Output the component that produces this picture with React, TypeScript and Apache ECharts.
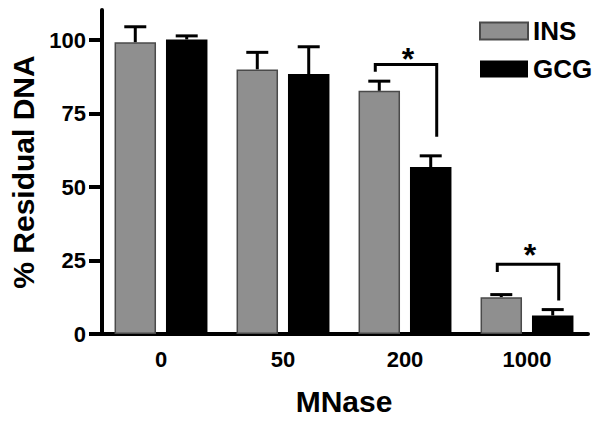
import React, { useEffect, useRef } from "react";
import * as echarts from "echarts";

const categories = ["0", "50", "200", "1000"];
const insValues = [99.2, 90.0, 82.7, 12.5];
const insErrTop = [104.5, 95.8, 86.0, 13.4];
const gcgValues = [100.2, 88.4, 56.8, 6.3];
const gcgErrTop = [101.4, 97.7, 60.6, 8.3];
// significance brackets: [categoryIndex, leftBottom, rightBottom, top, starY]
const bracketCats = [2, 3];
const bracketLeftBottom = [89.2, 21.1];
const bracketRightBottom = [67.1, 11.4];
const bracketTop = [91.7, 23.7];
const starY = [93.5, 26.8];
const yTicks = { min: 0, max: 100, interval: 25 };

const FONT = "'Liberation Sans', Arial, sans-serif";
const BAR_W = 0.34;
const BAR_GAP = 0.24;

export default function App() {
  const ref = useRef<HTMLDivElement>(null);
  useEffect(() => {
    document.body.style.margin = "0";
    const chart = echarts.init(ref.current!, undefined, { renderer: "svg" });

    const barOffset = (api: any) => {
      const band = api.size([1, 0])[0];
      const bw = band * BAR_W;
      return (bw + bw * BAR_GAP) / 2;
    };

    const makeErr = (sign: number) => (params: any, api: any) => {
      const cat = api.value(0);
      const c = api.coord([cat, api.value(1)]);
      const e = api.coord([cat, api.value(2)]);
      const x = c[0] + sign * barOffset(api);
      return {
        type: "group",
        children: [
          { type: "line", shape: { x1: x, y1: c[1], x2: x, y2: e[1] }, style: { stroke: "#000", lineWidth: 3 } },
          { type: "line", shape: { x1: x - 11, y1: e[1], x2: x + 11, y2: e[1] }, style: { stroke: "#000", lineWidth: 3 } },
        ],
      };
    };

    const bracketRender = (params: any, api: any) => {
      const cat = api.value(0);
      const off = barOffset(api);
      const lb = api.coord([cat, api.value(1)]);
      const rb = api.coord([cat, api.value(2)]);
      const tp = api.coord([cat, api.value(3)]);
      const st = api.coord([cat, api.value(4)]);
      const lx = lb[0] - off - 4;
      const rx = lb[0] + off + 6;
      return {
        type: "group",
        children: [
          {
            type: "polyline",
            shape: { points: [[lx, lb[1]], [lx, tp[1]], [rx, tp[1]], [rx, rb[1]]] },
            style: { stroke: "#000", lineWidth: 3, fill: "none" },
          },
          {
            type: "text",
            x: (lx + rx) / 2 + 2,
            y: st[1],
            style: { text: "*", fontSize: 32, fontWeight: "bold", fontFamily: FONT, fill: "#000", align: "center", verticalAlign: "middle" },
          },
        ],
      };
    };

    const labelStyle = { fontSize: 22, fontWeight: "bold", fontFamily: FONT, color: "#000" };

    chart.setOption({
      animation: false,
      backgroundColor: "#fff",
      grid: [
        { left: 100, right: 12, top: 40, bottom: 87 },
        { left: 100, right: 12, top: 10, bottom: 87 },
      ],
      legend: {
        data: ["INS", "GCG"],
        orient: "vertical",
        left: 479,
        top: 18,
        padding: 0,
        itemWidth: 48,
        itemHeight: 17,
        itemGap: 12,
        icon: "rect",
        textStyle: { fontSize: 26, lineHeight: 26, fontWeight: "bold", fontFamily: FONT, color: "#000" },
      },
      xAxis: [
        {
          type: "category",
          gridIndex: 0,
          data: categories,
          name: "MNase",
          nameLocation: "middle",
          nameGap: 52,
          nameTextStyle: { fontSize: 30, fontWeight: "bold", fontFamily: FONT, color: "#000" },
          axisLine: { lineStyle: { color: "#000", width: 4 } },
          axisTick: { alignWithLabel: true, length: 11, lineStyle: { color: "#000", width: 4 } },
          axisLabel: { ...labelStyle, margin: 14 },
        },
        { type: "category", gridIndex: 1, data: categories, show: false },
      ],
      yAxis: [
        {
          type: "value",
          gridIndex: 0,
          min: yTicks.min,
          max: yTicks.max,
          interval: yTicks.interval,
          splitLine: { show: false },
          axisLine: { show: false },
          axisTick: { show: true, length: 11, lineStyle: { color: "#000", width: 4 } },
          axisLabel: { ...labelStyle, margin: 14 },
        },
        {
          type: "value",
          gridIndex: 1,
          min: 0,
          max: 110,
          splitLine: { show: false },
          axisLine: { show: true, lineStyle: { color: "#000", width: 4 } },
          axisTick: { show: false },
          axisLabel: { show: false },
          name: "% Residual DNA",
          nameLocation: "middle",
          nameGap: 64,
          nameTextStyle: { fontSize: 30, fontWeight: "bold", fontFamily: FONT, color: "#000" },
        },
      ],
      series: [
        {
          name: "INS",
          type: "bar",
          xAxisIndex: 0,
          yAxisIndex: 0,
          data: insValues,
          barWidth: BAR_W * 100 + "%",
          barGap: BAR_GAP * 100 + "%",
          clip: false,
          itemStyle: { color: "#8f8f8f", borderColor: "#4a4a4a", borderWidth: 1.5 },
        },
        {
          name: "GCG",
          type: "bar",
          xAxisIndex: 0,
          yAxisIndex: 0,
          data: gcgValues,
          barWidth: BAR_W * 100 + "%",
          barGap: BAR_GAP * 100 + "%",
          clip: false,
          itemStyle: { color: "#000" },
        },
        {
          type: "custom",
          xAxisIndex: 0,
          yAxisIndex: 0,
          renderItem: makeErr(-1),
          encode: { x: 0, y: [1, 2] },
          data: insValues.map((v, i) => [i, v, insErrTop[i]]),
          z: 1,
        },
        {
          type: "custom",
          xAxisIndex: 0,
          yAxisIndex: 0,
          renderItem: makeErr(1),
          encode: { x: 0, y: [1, 2] },
          data: gcgValues.map((v, i) => [i, v, gcgErrTop[i]]),
          z: 1,
        },
        {
          type: "custom",
          xAxisIndex: 0,
          yAxisIndex: 0,
          renderItem: bracketRender,
          encode: { x: 0, y: [1, 2, 3, 4] },
          data: bracketCats.map((c, i) => [c, bracketLeftBottom[i], bracketRightBottom[i], bracketTop[i], starY[i]]),
          z: 3,
        },
      ],
    });
    return () => chart.dispose();
  }, []);
  return <div ref={ref} style={{ width: 600, height: 421 }} />;
}
